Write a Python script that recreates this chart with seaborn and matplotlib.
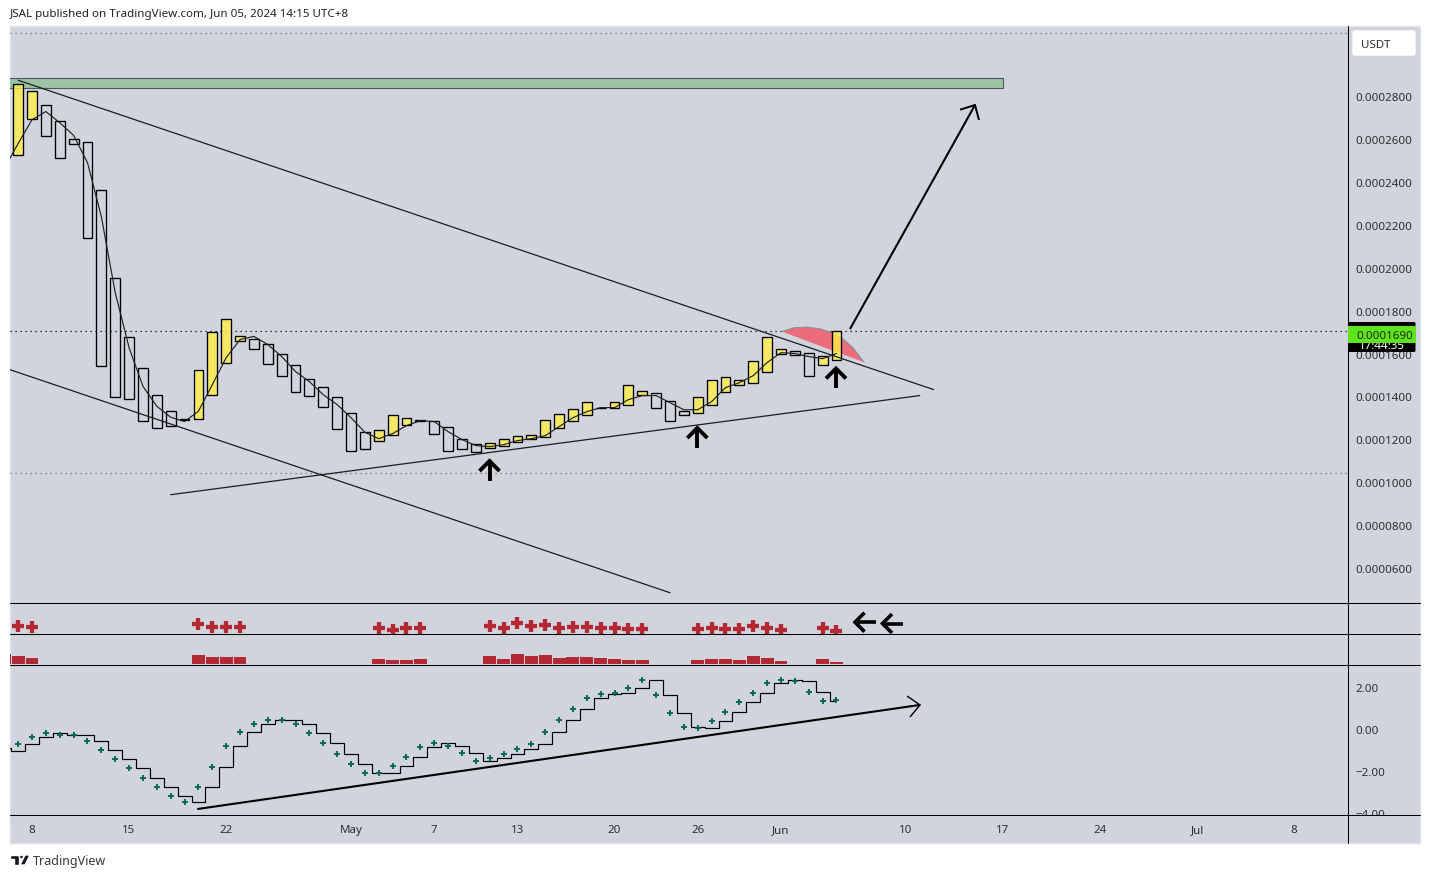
# plot.py

import numpy as np
import pandas as pd
import matplotlib
matplotlib.use("Agg")
import matplotlib.pyplot as plt
import seaborn as sns
from matplotlib.patches import Circle, FancyBboxPatch, Polygon, Rectangle

WIDTH_PX = 1430
HEIGHT_PX = 879
BG_COLOR = "#D1D4DC"
PRICE_UNIT = 1e-7

# prices are in units of 1e-7, first candle is on day -1 (day 0 = Apr 8)
candle_open = [2526, 2694, 2759, 2684, 2600, 2586, 2363, 1952, 1677, 1533,
               1407, 1332, 1295, 1295, 1407, 1556, 1659, 1668, 1645, 1598,
               1547, 1482, 1444, 1398, 1323, 1235, 1193, 1221, 1267, 1288,
               1286, 1258, 1202, 1179, 1160, 1169, 1188, 1202, 1211, 1253,
               1286, 1314, 1348, 1346, 1360, 1407, 1416, 1379, 1332, 1323,
               1360, 1421, 1454, 1463, 1514, 1598, 1612, 1603, 1547, 1570]
candle_close = [2857, 2824, 2614, 2512, 2577, 2139, 1542, 1398, 1388, 1286,
                1253, 1262, 1291, 1524, 1701, 1761, 1682, 1621, 1552, 1496,
                1421, 1402, 1351, 1248, 1146, 1155, 1244, 1314, 1300, 1285,
                1225, 1146, 1155, 1141, 1183, 1202, 1216, 1221, 1290, 1318,
                1342, 1374, 1346, 1374, 1454, 1426, 1346, 1286, 1314, 1398,
                1477, 1491, 1477, 1566, 1677, 1621, 1593, 1496, 1589, 1705]

# moving average, first value is on day -2
ma_values = [2462, 2579, 2690, 2728, 2676, 2617, 2490, 2238, 1884, 1627,
             1447, 1354, 1303, 1283, 1331, 1455, 1581, 1665, 1680, 1642,
             1586, 1516, 1469, 1408, 1362, 1301, 1233, 1203, 1227, 1264,
             1287, 1283, 1236, 1199, 1171, 1166, 1175, 1194, 1203, 1217,
             1259, 1301, 1329, 1348, 1348, 1385, 1404, 1404, 1371, 1338,
             1338, 1376, 1441, 1464, 1497, 1558, 1604, 1600, 1586, 1576, 1600]

signal_days = [-2, -1, 0, 12, 13, 14, 15, 25, 26, 27, 28,
               33, 34, 35, 36, 37, 38, 39, 40, 41, 42, 43, 44,
               48, 49, 50, 51, 52, 53, 54, 57, 58]
signal_cross = [8.3, 7.3, 5.6, 8.6, 6.3, 6.3, 6.0, 5.3, 3.3, 5.0, 5.0,
                7.3, 5.3, 10.3, 7.3, 8.3, 5.3, 6.3, 6.3, 5.0, 5.0, 4.3, 4.3,
                4.3, 5.3, 4.3, 4.3, 7.3, 5.3, 3.3, 5.3, 2.3]
signal_bars = [10.3, 8.3, 6.3, 9.3, 7.3, 7.3, 7.3, 5.3, 4.3, 4.3, 5.3,
               8.3, 5.3, 10.3, 8.3, 9.3, 6.3, 7.3, 7.3, 6.3, 5.3, 4.3, 4.3,
               4.3, 5.3, 5.3, 4.3, 8.3, 6.3, 3.3, 5.3, 2.3]

# oscillator, step line starts on day -2, crosses on day -1
osc_step = [-0.93, -1.05, -0.74, -0.41, -0.21, -0.31, -0.31, -0.60, -1.02, -1.45,
            -1.88, -2.36, -2.79, -3.21, -3.50, -2.79, -1.83, -0.83, -0.17, 0.21,
            0.40, 0.40, 0.21, -0.21, -0.69, -1.21, -1.69, -2.12, -2.12, -1.79,
            -1.36, -0.88, -0.69, -0.83, -1.17, -1.55, -1.40, -1.21, -0.98, -0.74,
            -0.17, 0.40, 0.93, 1.45, 1.64, 1.69, 1.93, 2.31, 1.60, 0.74,
            0.07, 0.02, 0.36, 0.79, 1.26, 1.69, 2.17, 2.31, 2.26, 1.74, 1.31]
osc_cross = [-0.74, -0.40, -0.21, -0.30, -0.30, -0.60, -1.02, -1.45, -1.88, -2.36,
             -2.79, -3.21, -3.50, -2.79, -1.83, -0.83, -0.17, 0.21, 0.40, 0.40,
             0.21, -0.21, -0.69, -1.21, -1.69, -2.12, -2.12, -1.79, -1.36, -0.88,
             -0.69, -0.83, -1.17, -1.55, -1.40, -1.21, -0.98, -0.74, -0.17, 0.40,
             0.93, 1.45, 1.64, 1.69, 1.93, 2.31, 1.60, 0.74, 0.07, 0.02,
             0.36, 0.79, 1.26, 1.69, 2.17, 2.31, 2.26, 1.74, 1.31, 1.36]

price_ticks = [600, 800, 1000, 1200, 1400, 1600, 1800, 2000, 2200, 2400, 2600, 2800]
price_labels = ["0.0000600", "0.0000800", "0.0001000", "0.0001200", "0.0001400", "0.0001600",
                "0.0001800", "0.0002000", "0.0002200", "0.0002400", "0.0002600", "0.0002800"]
osc_ticks = [2, 0, -2, -4]
osc_labels = ["2.00", "0.00", "−2.00", "−4.00"]
date_ticks = [0, 7, 14, 23, 29, 35, 42, 48, 54, 63, 70, 77, 84, 91]
date_labels = ["8", "15", "22", "May", "7", "13", "20", "26", "Jun", "10", "17", "24", "Jul", "8"]

# drawings, (day, price)
channel_top = ([-1.0, 65.0], [2874, 1432])
channel_bottom = ([-1.6, 46.0], [1525, 485])
support_line = ([10.0, 64.0], [942, 1404])
sector_days = [54.05, 54.94, 55.85, 56.8, 57.75, 58.54, 59.2, 60.0]
sector_prices = [1703, 1721, 1724, 1716, 1697, 1665, 1627, 1559]
zone_days = [-3, 70]
zone_prices = [2837, 2886]
dotted_prices = [3096, 1707, 1045]
dotted_colors = ["#6b7080", "#000000", "#6b7080"]
osc_trend = ([11.97, 64.0], [-3.83, 1.12])


def panel(fig, left, top, right, bottom, zorder=1):
    ax = fig.add_axes([left / WIDTH_PX, 1 - bottom / HEIGHT_PX,
                       (right - left) / WIDTH_PX, (bottom - top) / HEIGHT_PX], zorder=zorder)
    ax.patch.set_visible(False)
    for spine in ax.spines.values():
        spine.set_visible(False)
    ax.set_xlim((10 - 32) / 13.87, (1348 - 32) / 13.87)
    ax.set_xticks([])
    ax.set_yticks([])
    ax.set_xlabel("")
    ax.set_ylabel("")
    return ax


def arrow_px(ax, points, lw):
    xs, ys = zip(*points)
    ax.plot(xs, ys, color="black", lw=lw, solid_capstyle="butt", solid_joinstyle="miter")


def main():
    sns.set_theme(style="white")
    plt.rcParams["font.family"] = ["Noto Sans", "DejaVu Sans"]

    fig = plt.figure(figsize=(WIDTH_PX / 100, HEIGHT_PX / 100), dpi=100, facecolor="white")

    back = fig.add_axes([0, 0, 1, 1], zorder=-1)
    back.set_xlim(0, WIDTH_PX)
    back.set_ylim(HEIGHT_PX, 0)
    back.axis("off")
    back.add_patch(Rectangle((10, 27), 1410, 817, facecolor=BG_COLOR, edgecolor="#E0E3EB", lw=1))

    # main price panel
    ax = panel(fig, 10, 27.6, 1348, 603.6)
    ax.set_ylim(439 * PRICE_UNIT, 3124 * PRICE_UNIT)

    candles = pd.DataFrame({"day": np.arange(-1, 59), "open": candle_open, "close": candle_close})
    candles["low"] = candles[["open", "close"]].min(axis=1) * PRICE_UNIT
    candles["height"] = (candles["close"] - candles["open"]).abs() * PRICE_UNIT
    up = candles["close"] > candles["open"]

    for price, color in zip(dotted_prices, dotted_colors):
        ax.axhline(price * PRICE_UNIT, color=color, lw=0.9, ls=(0, (1, 3)), zorder=1)

    ax.fill(sector_days, np.array(sector_prices) * PRICE_UNIT, facecolor="#EB6C7A", edgecolor="none", zorder=1)
    ax.plot(sector_days, np.array(sector_prices) * PRICE_UNIT, color="#4F9FA0", lw=0.5, zorder=1)

    ax.add_patch(Rectangle((zone_days[0], zone_prices[0] * PRICE_UNIT), zone_days[1] - zone_days[0],
                           (zone_prices[1] - zone_prices[0]) * PRICE_UNIT,
                           facecolor="#9BC4A4", edgecolor="#4D5566", lw=0.8, zorder=1))

    ax.bar(candles.loc[~up, "day"], candles.loc[~up, "height"], bottom=candles.loc[~up, "low"], width=0.71,
           facecolor="none", edgecolor="black", lw=0.95, zorder=2)
    ax.bar(candles.loc[up, "day"], candles.loc[up, "height"], bottom=candles.loc[up, "low"], width=0.71,
           facecolor=(1.0, 0.933, 0.28, 0.8), edgecolor="black", lw=0.95, zorder=2)

    sns.lineplot(x=np.arange(-2, 59), y=np.array(ma_values) * PRICE_UNIT, ax=ax, color="#222222", lw=0.85,
                 estimator=None, zorder=3)

    for days, prices in [channel_top, channel_bottom, support_line]:
        ax.plot(days, np.array(prices) * PRICE_UNIT, color="#1c1c1c", lw=0.9, zorder=3)

    ax.yaxis.tick_right()
    ax.set_yticks(np.array(price_ticks) * PRICE_UNIT)
    ax.set_yticklabels(price_labels)
    ax.tick_params(axis="y", length=0, pad=5.6, labelsize=8.3, labelcolor="#2E2E2E")
    ax.set_xlabel("")
    ax.set_ylabel("")

    # cross signal panel
    ax_cross = panel(fig, 10, 603, 1348, 634)
    ax_cross.set_ylim(0, 31)
    sns.scatterplot(x=signal_days, y=signal_cross, ax=ax_cross, marker="+", s=72, linewidth=3.1,
                    color="#B22833", legend=False)

    # bar signal panel
    ax_bars = panel(fig, 10, 634, 1348, 665)
    ax_bars.set_ylim(0, 31)
    ax_bars.bar(signal_days, signal_bars, width=0.93, color="#B22833", edgecolor="none", lw=0)

    # oscillator panel
    ax_osc = panel(fig, 10, 665, 1348, 816)
    ax_osc.set_ylim((729.5 - 816) / 21, (729.5 - 665) / 21)
    sns.lineplot(x=np.arange(-2, 59), y=osc_step, ax=ax_osc, color="black", lw=0.85,
                 drawstyle="steps-mid", estimator=None)
    sns.scatterplot(x=np.arange(-1, 59), y=osc_cross, ax=ax_osc, marker="+", s=20, linewidth=1.35,
                    color="#056656", legend=False, zorder=3)
    ax_osc.plot(osc_trend[0], osc_trend[1], color="black", lw=1.5, zorder=3)

    ax_osc.yaxis.tick_right()
    ax_osc.set_yticks(osc_ticks)
    ax_osc.set_yticklabels(osc_labels)
    ax_osc.tick_params(axis="y", length=0, pad=5.6, labelsize=8.3, labelcolor="#2E2E2E")
    ax_osc.set_xticks(date_ticks)
    ax_osc.set_xticklabels(date_labels, va="baseline")
    ax_osc.tick_params(axis="x", length=0, pad=12.2, labelsize=8.3, labelcolor="#2E2E2E")
    for label in ax_osc.get_xticklabels():
        if label.get_text() in ("May", "Jun", "Jul"):
            label.set_fontweight("semibold")
    ax_osc.set_xlabel("")
    ax_osc.set_ylabel("")

    # everything that sits on top of the panels, in pixels
    top = fig.add_axes([0, 0, 1, 1], zorder=10)
    top.patch.set_visible(False)
    top.set_xlim(0, WIDTH_PX)
    top.set_ylim(HEIGHT_PX, 0)
    top.axis("off")

    top.add_patch(Rectangle((1349, 816.5), 71, 27, facecolor=BG_COLOR, edgecolor="none"))
    for y in [603, 634, 665, 816]:
        top.plot([10, 1420], [y + 0.5, y + 0.5], color="black", lw=0.75)
    top.plot([1348.2, 1348.2], [27, 844], color="black", lw=0.75)

    top.add_patch(FancyBboxPatch((1353, 32), 62, 24, boxstyle="round,pad=0,rounding_size=2",
                                 facecolor="white", edgecolor="white"))
    top.text(1361, 45, "USDT", fontsize=8.3, color="#2E2E2E", va="center")

    top.add_patch(FancyBboxPatch((1348, 323), 67.5, 30, boxstyle="round,pad=0,rounding_size=1.5",
                                 facecolor="black", edgecolor="none"))
    top.text(1382, 347, "17:44:35", fontsize=8.3, color="white", ha="center", va="center")
    top.add_patch(Rectangle((1348, 326.5), 67.5, 17.5, facecolor="#5FE31A", edgecolor="none", zorder=5))
    top.text(1356, 336.5, "0.0001690", fontsize=8.3, color="#1E2A14", va="center", zorder=6)

    # hand drawn arrows
    arrow_px(top, [(850, 330), (975, 106)], 1.5)
    arrow_px(top, [(960, 110.7), (975, 106), (979, 121)], 1.4)
    arrow_px(top, [(907, 697), (920, 706), (910, 718)], 1.0)
    for tip_x, tip_y in [(489.5, 461), (697.3, 428), (836, 368.5)]:
        arrow_px(top, [(tip_x, tip_y), (tip_x, tip_y + 20.5)], 2.8)
        arrow_px(top, [(tip_x - 10, tip_y + 11), (tip_x, tip_y + 1), (tip_x + 10, tip_y + 11)], 2.8)
    for tip_x, tip_y in [(854.5, 623.2), (882, 624.5)]:
        arrow_px(top, [(tip_x, tip_y), (tip_x + 21, tip_y)], 2.6)
        arrow_px(top, [(tip_x + 10, tip_y - 9.5), (tip_x + 0.5, tip_y), (tip_x + 10, tip_y + 9.5)], 2.6)

    # header and footer
    top.text(10, 15, "JSAL published on TradingView.com, Jun 05, 2024 14:15 UTC+8",
             fontsize=8.35, color="#222222", va="center")
    top.text(33, 861.5, "TradingView", fontsize=9.0, color="#3A3A3A", va="center")
    top.add_patch(Polygon([(10, 856), (19, 856), (19, 866), (14, 866), (14, 860), (10, 860)], facecolor="#131722"))
    top.add_patch(Circle((21.5, 858), 2, facecolor="#131722"))
    top.add_patch(Polygon([(25, 856), (30, 856), (25, 866), (20, 866)], facecolor="#131722"))

    fig.savefig("out.png", dpi=100)
    plt.close(fig)


if __name__ == "__main__":
    main()
